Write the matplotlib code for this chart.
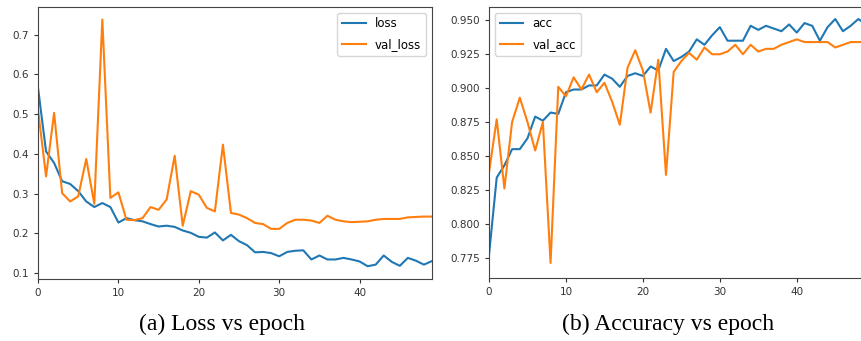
import numpy as np
import matplotlib
matplotlib.use("Agg")
import matplotlib.pyplot as plt
from matplotlib.ticker import FormatStrFormatter

# values, 50 epochs
loss = [0.566, 0.406, 0.377, 0.331, 0.324, 0.306, 0.280, 0.266, 0.276, 0.266,
        0.227, 0.238, 0.233, 0.230, 0.223, 0.217, 0.219, 0.216, 0.207, 0.201,
        0.191, 0.189, 0.202, 0.182, 0.196, 0.180, 0.170, 0.152, 0.153, 0.150,
        0.142, 0.153, 0.156, 0.157, 0.134, 0.144, 0.134, 0.134, 0.138, 0.134,
        0.129, 0.117, 0.121, 0.144, 0.128, 0.118, 0.138, 0.131, 0.121, 0.130]
val_loss = [0.511, 0.343, 0.503, 0.301, 0.280, 0.293, 0.387, 0.274, 0.738, 0.289,
            0.303, 0.234, 0.233, 0.238, 0.266, 0.259, 0.285, 0.395, 0.219, 0.306,
            0.297, 0.264, 0.255, 0.423, 0.251, 0.247, 0.238, 0.226, 0.223, 0.211,
            0.211, 0.226, 0.234, 0.234, 0.232, 0.226, 0.244, 0.234, 0.230, 0.228,
            0.229, 0.230, 0.234, 0.236, 0.236, 0.236, 0.240, 0.241, 0.242, 0.242]
acc = [0.777, 0.834, 0.843, 0.855, 0.855, 0.863, 0.879, 0.876, 0.882, 0.881,
       0.897, 0.899, 0.899, 0.902, 0.902, 0.910, 0.907, 0.901, 0.909, 0.911,
       0.909, 0.916, 0.913, 0.929, 0.920, 0.923, 0.927, 0.936, 0.932, 0.939,
       0.945, 0.935, 0.935, 0.935, 0.946, 0.943, 0.946, 0.944, 0.942, 0.947,
       0.941, 0.948, 0.946, 0.935, 0.945, 0.951, 0.942, 0.946, 0.951, 0.947]
val_acc = [0.838, 0.877, 0.826, 0.875, 0.893, 0.875, 0.854, 0.875, 0.771, 0.901,
           0.894, 0.908, 0.899, 0.910, 0.897, 0.904, 0.890, 0.873, 0.915, 0.928,
           0.913, 0.882, 0.921, 0.836, 0.912, 0.920, 0.926, 0.921, 0.930, 0.925,
           0.925, 0.927, 0.932, 0.925, 0.932, 0.927, 0.929, 0.929, 0.932, 0.934,
           0.936, 0.934, 0.934, 0.934, 0.934, 0.930, 0.932, 0.934, 0.934, 0.934]
epochs = np.arange(len(loss))

fig = plt.figure(figsize=(8.62, 3.41), dpi=100)
ax1 = fig.add_axes([0.0441, 0.182, 0.457, 0.798])
ax2 = fig.add_axes([0.5673, 0.185, 0.4374, 0.795])

ax1.plot(epochs, loss, color="#1f77b4", lw=1.5, label="loss")
ax1.plot(epochs, val_loss, color="#ff7f0e", lw=1.5, label="val_loss")
ax1.set_xlim(0, 49)
ax1.set_ylim(0.085, 0.77)
ax1.set_yticks([0.1, 0.2, 0.3, 0.4, 0.5, 0.6, 0.7])
ax1.legend(loc="upper right", fontsize=8.5, labelspacing=0.65)

ax2.plot(epochs, acc, color="#1f77b4", lw=1.5, label="acc")
ax2.plot(epochs, val_acc, color="#ff7f0e", lw=1.5, label="val_acc")
ax2.set_xlim(0, 49)
ax2.set_ylim(0.760, 0.960)
ax2.set_yticks(np.arange(0.775, 0.951, 0.025))
ax2.yaxis.set_major_formatter(FormatStrFormatter("%.3f"))
ax2.legend(loc="upper left", fontsize=8.5, labelspacing=0.65)

for ax in (ax1, ax2):
    ax.set_xticks([0, 10, 20, 30, 40])
    ax.tick_params(labelsize=7.5, colors="#333333", length=3)
    for s in ax.spines.values():
        s.set_color("#444444")

fig.text(0.2575, 0.05, "(a) Loss vs epoch", ha="center", va="center",
         family="Liberation Serif", fontsize=17)
fig.text(0.775, 0.05, "(b) Accuracy vs epoch", ha="center", va="center",
         family="Liberation Serif", fontsize=17)

fig.savefig("out.png", dpi=100)
